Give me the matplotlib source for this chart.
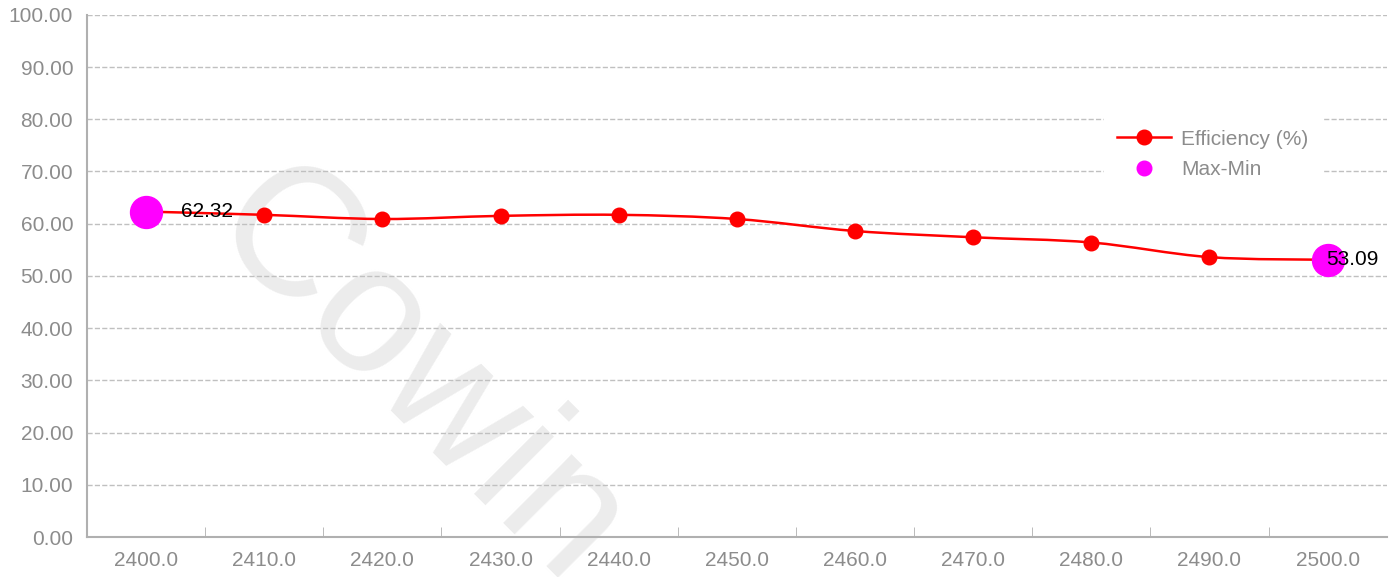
import numpy as np
import matplotlib.pyplot as plt
from matplotlib.path import Path
from matplotlib.patches import PathPatch
from matplotlib.lines import Line2D

plt.rcParams['font.family'] = ['Liberation Sans', 'DejaVu Sans']

freq = ['2400.0', '2410.0', '2420.0', '2430.0', '2440.0', '2450.0',
        '2460.0', '2470.0', '2480.0', '2490.0', '2500.0']
efficiency = [62.32, 61.7, 60.9, 61.5, 61.7, 60.9, 58.6, 57.4, 56.4, 53.6, 53.09]
max_min_idx = [0, 10]

grey = '#8c8c8c'
x = np.arange(len(freq))
y = np.array(efficiency)

fig = plt.figure(figsize=(13.99, 5.77), dpi=100)
ax = fig.add_axes([0.0622, 0.0693, 0.929, 0.905])

# watermark
ax.text(0.254, 0.303, 'Cowin', transform=ax.transAxes, fontsize=132,
        color='#ececec', rotation=-45, ha='center', va='center', zorder=0)

# smooth line like an office chart (catmull-rom drawn as bezier segments)
pts = np.column_stack([x, y])
verts = [pts[0]]
codes = [Path.MOVETO]
for i in range(len(pts) - 1):
    p0 = pts[i - 1] if i > 0 else pts[i]
    p1, p2 = pts[i], pts[i + 1]
    p3 = pts[i + 2] if i + 2 < len(pts) else pts[i + 1]
    c1 = p1 + (p2 - p0) / 6
    c2 = p2 - (p3 - p1) / 6
    verts += [c1, c2, p2]
    codes += [Path.CURVE4] * 3
ax.add_patch(PathPatch(Path(verts, codes), fill=False, edgecolor='red',
                       lw=1.8, zorder=3))
ax.plot(x, y, 'o', color='red', ms=10.5, zorder=4)
ax.plot(x[max_min_idx], y[max_min_idx], 'o', color='#ff00ff', ms=23, zorder=5)

ax.annotate(f'{efficiency[0]:.2f}', (x[0], y[0]), xytext=(25, 0),
            textcoords='offset points', fontsize=15, va='center', zorder=6)
ax.annotate(f'{efficiency[-1]:.2f}', (x[-1], y[-1]), xytext=(-1, 0),
            textcoords='offset points', fontsize=15, va='center', zorder=6)

ax.set_xlim(-0.5, len(freq) - 0.5)
ax.set_ylim(0, 100)
ax.set_yticks(np.arange(0, 101, 10))
ax.set_yticklabels([f'{v:.2f}' for v in np.arange(0, 101, 10)])
ax.set_xticks(x)
ax.set_xticklabels(freq)
ax.set_xticks(np.arange(0.5, len(freq) - 1, 1), minor=True)
ax.tick_params(axis='x', which='major', length=0, pad=10, labelsize=15, colors=grey)
ax.tick_params(axis='x', which='minor', direction='in', length=7, color='#b0b0b0')
ax.tick_params(axis='y', length=0, pad=10, labelsize=15, colors=grey)
ax.grid(axis='y', color='#c0c0c0', ls='--', lw=1)
ax.set_axisbelow(True)
for s in ['top', 'right']:
    ax.spines[s].set_visible(False)
for s in ['left', 'bottom']:
    ax.spines[s].set_color('#b0b0b0')
    ax.spines[s].set_linewidth(1.5)

handles = [Line2D([], [], color='red', marker='o', ms=10.5, lw=1.8),
           Line2D([], [], color='#ff00ff', marker='o', ls='', ms=10.5)]
leg = ax.legend(handles, ['Efficiency (%)', 'Max-Min'], loc='center',
                bbox_to_anchor=(0.866, 0.733), frameon=True, fontsize=15,
                labelcolor=grey, handlelength=2.6, handletextpad=0.5,
                edgecolor='white', framealpha=1, fancybox=False,
                labelspacing=0.55, borderpad=0.6)

fig.savefig('out.png', dpi=100)
